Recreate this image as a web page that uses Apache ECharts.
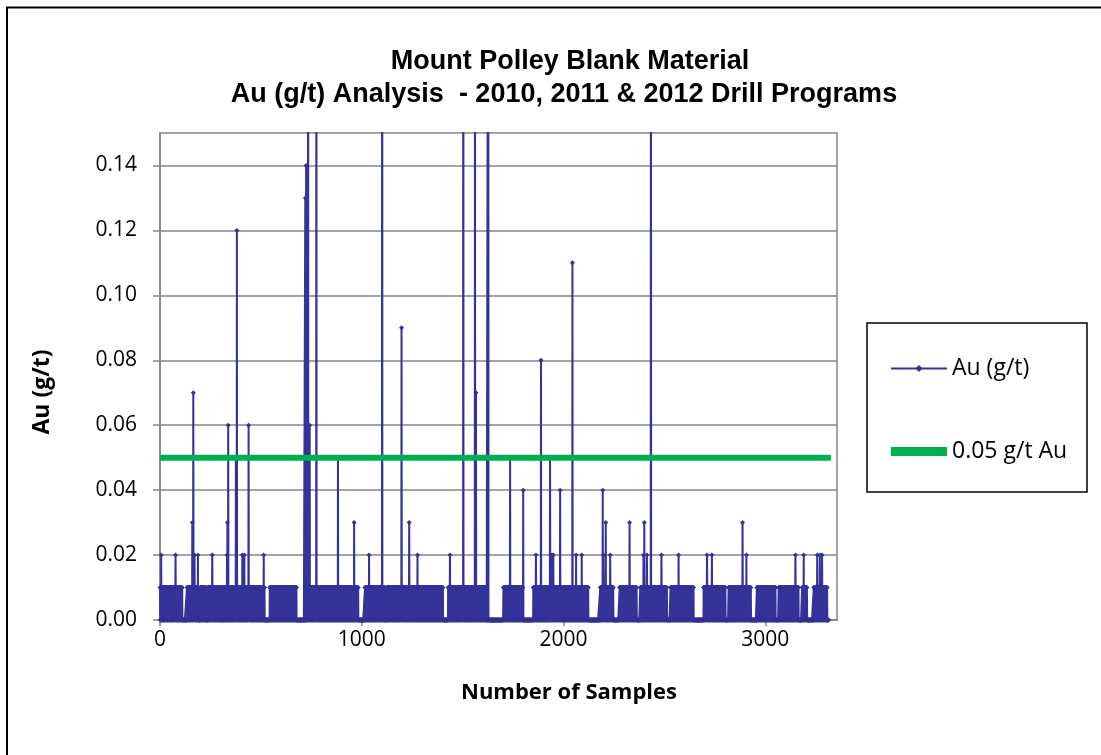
<!DOCTYPE html>
<html>
<head>
<meta charset="utf-8">
<script src="https://cdn.jsdelivr.net/npm/echarts@6/dist/echarts.min.js"></script>
<style>
html,body{margin:0;padding:0;background:#fff;}
#chart{width:1101px;height:755px;}
</style>
</head>
<body>
<div id="chart"></div>
<script>
// ---- data ----
const titleLines = ['Mount Polley Blank Material', 'Au (g/t) Analysis  - 2010, 2011 & 2012 Drill Programs'];
const xTicks = [0, 1000, 2000, 3000];
const yTicks = [0, 0.02, 0.04, 0.06, 0.08, 0.10, 0.12, 0.14];
const sampleCount = 3313;            // last sample number
const thresholdValue = 0.05;         // 0.05 g/t Au line
const thresholdRange = [0, 3325];

// sample ranges where results flip between the two low readings (0.01 / 0.00)
const bandStart = [0, 133, 200, 237, 309, 381, 444, 543, 726, 1015, 1123, 1428, 1701, 1850, 2007, 2181, 2277, 2380, 2529, 2694, 2818, 2958, 3066, 3182, 3240];
const bandEnd   = [110, 192, 229, 304, 381, 444, 519, 676, 982, 1114, 1403, 1619, 1800, 2007, 2123, 2247, 2363, 2512, 2644, 2802, 2929, 3050, 3165, 3207, 3306];
const bandLevels = [0.01, 0];

// individual higher results (sample number, Au g/t)
const spikeSample = [6, 77, 160, 165, 171, 188, 259, 332, 334, 338, 376, 381, 408, 418, 439, 514,
  720, 724, 734, 742, 775, 882, 962, 1036, 1101, 1197, 1235, 1276, 1437, 1503, 1561, 1566, 1627,
  1735, 1800, 1863, 1888, 1933, 1936, 1942, 1949, 1983, 2044, 2062, 2090, 2194, 2197, 2209, 2231,
  2327, 2396, 2400, 2413, 2433, 2485, 2570, 2711, 2735, 2887, 2906, 3149, 3190, 3257, 3270, 3281];
const spikeValue = [0.02, 0.02, 0.03, 0.07, 0.02, 0.02, 0.02, 0.02, 0.03, 0.06, 0.05, 0.12, 0.02, 0.02, 0.06, 0.02,
  0.13, 0.14, 0.30, 0.06, 0.25, 0.05, 0.03, 0.02, 0.40, 0.09, 0.03, 0.02, 0.02, 0.35, 0.22, 0.07, 0.28,
  0.05, 0.04, 0.02, 0.08, 0.05, 0.02, 0.02, 0.02, 0.04, 0.11, 0.02, 0.02, 0.04, 0.02, 0.03, 0.02,
  0.03, 0.02, 0.03, 0.02, 0.30, 0.02, 0.02, 0.02, 0.02, 0.03, 0.02, 0.02, 0.02, 0.02, 0.02, 0.02];

// ---- build series ----
const values = new Array(sampleCount + 1).fill(0);
for (let b = 0; b < bandStart.length; b++) {
  for (let i = bandStart[b]; i <= bandEnd[b]; i++) values[i] = bandLevels[i % 2];
}
spikeSample.forEach((s, k) => { values[s] = spikeValue[k]; });
const auData = values.map((v, i) => [i, v]);
const thresholdData = thresholdRange.map(x => [x, thresholdValue]);

const chart = echarts.init(document.getElementById('chart'));
const labelFont = '"Open Sans", "Noto Sans", sans-serif';
chart.setOption({
  animation: false,
  backgroundColor: '#ffffff',
  grid: {left: 160, top: 133, right: 264, bottom: 135, show: true, borderColor: '#868686', borderWidth: 1.5, containLabel: false},
  xAxis: {
    type: 'value', min: 0, max: 3355, interval: 1000,
    axisLine: {show: true, lineStyle: {color: '#868686', width: 1.5}},
    axisTick: {show: true, length: 6, customValues: xTicks, lineStyle: {color: '#868686', width: 1.5}},
    axisLabel: {customValues: xTicks, margin: 10, color: '#000', fontSize: 21, fontFamily: labelFont,
      formatter: v => (v % 1000 === 0 ? String(v) : '')},
    splitLine: {show: false}
  },
  yAxis: {
    type: 'value', min: 0, max: 0.15, interval: 0.02,
    axisLine: {show: true, lineStyle: {color: '#868686', width: 1.5}},
    axisTick: {show: true, length: 7, customValues: yTicks, lineStyle: {color: '#868686', width: 1.5}},
    axisLabel: {customValues: yTicks, margin: 23, color: '#000', fontSize: 21, fontFamily: labelFont,
      formatter: v => (v > 0.145 ? '' : v.toFixed(2))},
    splitLine: {show: true, lineStyle: {color: '#868686', width: 1.5}}
  },
  legend: {
    orient: 'vertical', left: 885, top: 352, itemWidth: 56, itemHeight: 9, itemGap: 60,
    textStyle: {fontSize: 23, color: '#000', fontFamily: labelFont},
    data: [{name: 'Au (g/t)'}, {name: '0.05 g/t Au', icon: 'rect'}]
  },
  series: [
    {name: 'Au (g/t)', type: 'line', data: auData, symbol: 'diamond', symbolSize: 5, showSymbol: true,
      color: '#333399', lineStyle: {color: '#333399', width: 2}, itemStyle: {color: '#333399'}, z: 2, clip: true},
    {name: '0.05 g/t Au', type: 'line', data: thresholdData, showSymbol: false, symbol: 'none',
      color: '#00B050', lineStyle: {color: '#00B050', width: 6}, itemStyle: {color: '#00B050'}, z: 3}
  ],
  graphic: [
    {type: 'polyline', shape: {points: [[7, 760], [7, 7.5], [1110, 7.5]]}, style: {stroke: '#000', lineWidth: 2, fill: null}},
    {type: 'rect', shape: {x: 867, y: 323, width: 220, height: 169}, style: {stroke: '#000', lineWidth: 1.5, fill: null}},
    {type: 'text', x: 570, y: 62, style: {text: titleLines[0], font: 'bold 27px "Liberation Sans", Arial, sans-serif', fill: '#000', textAlign: 'center', textVerticalAlign: 'middle'}},
    {type: 'text', x: 564, y: 95, style: {text: titleLines[1], font: 'bold 27px "Liberation Sans", Arial, sans-serif', fill: '#000', textAlign: 'center', textVerticalAlign: 'middle'}},
    {type: 'text', x: 42, y: 392, rotation: Math.PI / 2, style: {text: 'Au (g/t)', font: 'bold 23px "Open Sans", sans-serif', fill: '#000', textAlign: 'center', textVerticalAlign: 'middle'}},
    {type: 'text', x: 569, y: 693, style: {text: 'Number of Samples', font: 'bold 22px "Open Sans", sans-serif', fill: '#000', textAlign: 'center', textVerticalAlign: 'middle'}}
  ]
});
</script>
</body>
</html>
